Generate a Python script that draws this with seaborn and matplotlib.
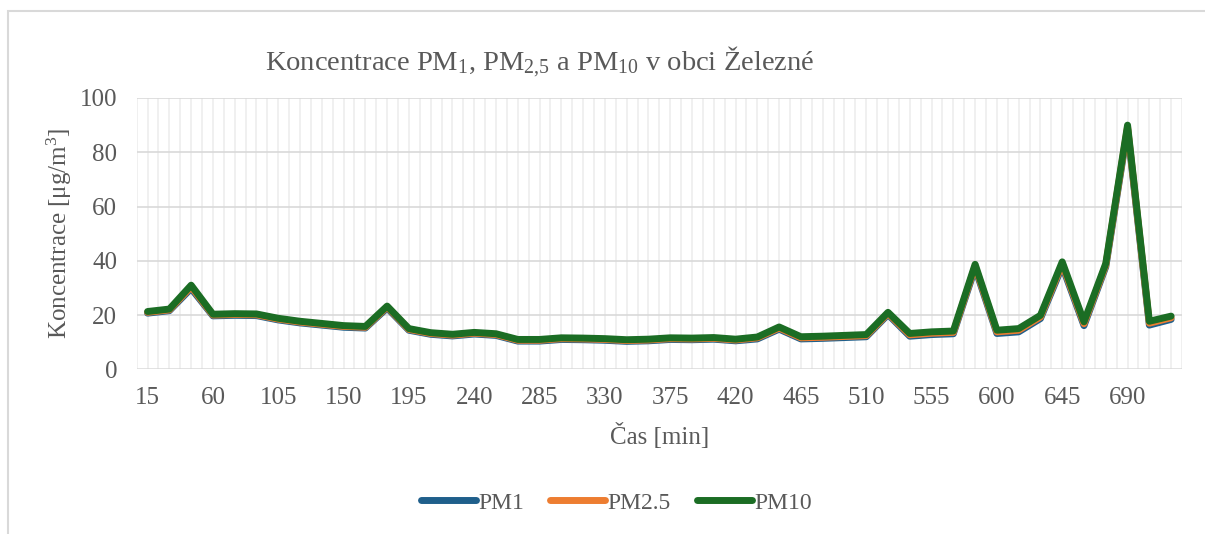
import pandas as pd
import seaborn as sns
import matplotlib.pyplot as plt
from matplotlib.patches import Rectangle

# data
cas = [15, 30, 45, 60, 75, 90, 105, 120, 135, 150, 165, 180, 195, 210, 225, 240,
       255, 270, 285, 300, 315, 330, 345, 360, 375, 390, 405, 420, 435, 450, 465, 480,
       495, 510, 525, 540, 555, 570, 585, 600, 615, 630, 645, 660, 675, 690, 705, 720]
pm10 = [21.3, 22.2, 31.0, 20.3, 20.5, 20.4, 18.8, 17.7, 16.9, 16.1, 15.8, 23.3, 15.0, 13.5, 12.9, 13.6,
        13.1, 11.0, 11.0, 11.6, 11.5, 11.3, 10.9, 11.1, 11.6, 11.5, 11.7, 11.1, 11.9, 15.6, 12.0, 12.2,
        12.5, 12.8, 21.0, 13.2, 13.8, 14.1, 38.7, 14.4, 15.0, 19.9, 39.6, 17.5, 39.0, 90.0, 17.7, 19.6]
pm25 = [21.0, 21.9, 30.4, 20.0, 20.2, 20.1, 18.5, 17.4, 16.6, 15.8, 15.5, 23.0, 14.7, 13.2, 12.6, 13.3,
        12.8, 10.7, 10.7, 11.3, 11.2, 11.0, 10.6, 10.8, 11.3, 11.2, 11.4, 10.8, 11.6, 15.2, 11.6, 11.8,
        12.1, 12.4, 20.6, 12.7, 13.3, 13.6, 38.0, 13.8, 14.4, 19.3, 38.8, 16.8, 38.4, 89.3, 17.0, 19.0]
pm1 = [20.7, 21.6, 29.8, 19.7, 19.9, 19.8, 18.2, 17.1, 16.3, 15.5, 15.2, 22.6, 14.4, 12.9, 12.3, 13.0,
       12.5, 10.4, 10.4, 11.0, 10.9, 10.7, 10.3, 10.5, 11.0, 10.9, 11.1, 10.5, 11.2, 14.8, 11.2, 11.4,
       11.7, 12.0, 20.2, 12.2, 12.8, 13.1, 37.3, 13.2, 13.8, 18.7, 38.0, 16.1, 37.8, 88.6, 16.3, 18.4]
series = ["PM1", "PM2.5", "PM10"]
colors = ["#1f5f8b", "#ed7d31", "#1b6d24"]

df = pd.DataFrame({
    "idx": list(range(len(cas))) * 3,
    "val": pm1 + pm25 + pm10,
    "serie": [s for s in series for _ in cas],
})

sns.set_style("white")
plt.rcParams["font.family"] = ["Liberation Serif", "DejaVu Serif"]
plt.rcParams["mathtext.fontset"] = "custom"
plt.rcParams["mathtext.rm"] = "Liberation Serif"
plt.rcParams["mathtext.it"] = "Liberation Serif:italic"
txt = "#595959"

fig = plt.figure(figsize=(12.05, 5.34), dpi=100)
fig.patches.append(Rectangle((8 / 1205, -0.1), 1.2, (534 - 11) / 534 + 0.1, transform=fig.transFigure,
                             fill=False, edgecolor="#d9d9d9", linewidth=1.5))
ax = fig.add_axes([136.7 / 1205, 1 - 369.3 / 534, (1182 - 136.7) / 1205, (369.3 - 98) / 534])

sns.lineplot(data=df, x="idx", y="val", hue="serie", palette=colors, hue_order=series,
             linewidth=5, ax=ax, legend=True, zorder=3)

ax.set_xlim(-0.5, len(cas) - 0.5)
ax.set_ylim(0, 100)
ax.set_yticks(range(0, 101, 20))
ax.set_xticks(range(0, len(cas), 3))
ax.set_xticklabels([str(c) for c in cas[::3]])
for v in [i * 0.5 - 0.5 for i in range(2 * len(cas) + 1)]:
    ax.axvline(v, color="#eeeeee", linewidth=1.2, zorder=1)
for v in range(20, 101, 20):
    ax.axhline(v, color="#d9d9d9", linewidth=1.2, zorder=2)
for s in ax.spines.values():
    s.set_visible(False)
ax.axhline(0, color="#d9d9d9", linewidth=1.8, zorder=2)
ax.tick_params(length=0, labelsize=18, labelcolor=txt)
ax.tick_params(axis="x", pad=13)
ax.tick_params(axis="y", pad=14)
ax.set_xlabel("Čas [min]", fontsize=18, color=txt, labelpad=10)
ax.set_ylabel(r"Koncentrace [μg/m$^3$]", fontsize=18, color=txt, labelpad=4)

fig.text(540 / 1205, 1 - 62 / 534, r"Koncentrace PM$_1$, PM$_{2{,}5}$ a PM$_{10}$ v obci Železné",
         ha="center", va="center", fontsize=20.5, color=txt)

h, l = ax.get_legend_handles_labels()
fig.legend(h, l, loc="center", bbox_to_anchor=(616.5 / 1205, 1 - 503 / 534),
           ncol=3, frameon=False, fontsize=17, handlelength=2.33, handletextpad=0.1, columnspacing=1.1,
           labelcolor=txt)
ax.get_legend().remove()
for line in fig.legends[0].get_lines():
    line.set_solid_capstyle("round")

plt.savefig("out.png", dpi=100)
